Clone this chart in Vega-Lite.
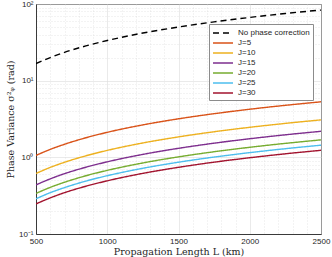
{
  "$schema": "https://vega.github.io/schema/vega-lite/v6.json",
  "width": 285,
  "height": 230,
  "autosize": {"type": "none"},
  "padding": {"left": 36, "top": 4, "right": 11, "bottom": 23},
  "background": "white",
  "config": {
    "view": {"stroke": "#3a3a3a", "strokeWidth": 1},
    "axis": {
      "domainColor": "#3a3a3a",
      "labelColor": "#262626",
      "labelFont": "Liberation Sans",
      "labelFontSize": 8,
      "titleFont": "DejaVu Serif",
      "titleFontWeight": "normal",
      "titleFontSize": 9.5,
      "titleColor": "#262626",
      "ticks": false,
      "labelOverlap": false,
      "labelFlush": false
    },
    "legend": {
      "title": null,
      "orient": "none",
      "legendX": 173,
      "legendY": 20,
      "fillColor": "white",
      "strokeColor": "#8c8c8c",
      "padding": 3,
      "symbolType": "M-2,0H2",
      "symbolSize": 100,
      "symbolStrokeWidth": 1.5,
      "symbolOffset": 5,
      "labelOffset": 9,
      "labelFont": "Liberation Sans",
      "labelFontSize": 8,
      "labelColor": "#262626",
      "rowPadding": 0
    }
  },
  "data": {
    "values": [
      {"L": 500, "s": "No phase correction", "v": 16.7},
      {"L": 600, "s": "No phase correction", "v": 20.0},
      {"L": 700, "s": "No phase correction", "v": 23.4},
      {"L": 850, "s": "No phase correction", "v": 28.4},
      {"L": 1000, "s": "No phase correction", "v": 33.4},
      {"L": 1250, "s": "No phase correction", "v": 41.8},
      {"L": 1500, "s": "No phase correction", "v": 50.1},
      {"L": 1750, "s": "No phase correction", "v": 58.5},
      {"L": 2000, "s": "No phase correction", "v": 66.8},
      {"L": 2250, "s": "No phase correction", "v": 75.2},
      {"L": 2500, "s": "No phase correction", "v": 83.5},
      {"L": 500, "s": "J=5", "v": 1.06},
      {"L": 600, "s": "J=5", "v": 1.27},
      {"L": 700, "s": "J=5", "v": 1.48},
      {"L": 850, "s": "J=5", "v": 1.80},
      {"L": 1000, "s": "J=5", "v": 2.12},
      {"L": 1250, "s": "J=5", "v": 2.65},
      {"L": 1500, "s": "J=5", "v": 3.18},
      {"L": 1750, "s": "J=5", "v": 3.71},
      {"L": 2000, "s": "J=5", "v": 4.24},
      {"L": 2250, "s": "J=5", "v": 4.77},
      {"L": 2500, "s": "J=5", "v": 5.30},
      {"L": 500, "s": "J=10", "v": 0.616},
      {"L": 600, "s": "J=10", "v": 0.739},
      {"L": 700, "s": "J=10", "v": 0.862},
      {"L": 850, "s": "J=10", "v": 1.047},
      {"L": 1000, "s": "J=10", "v": 1.232},
      {"L": 1250, "s": "J=10", "v": 1.54},
      {"L": 1500, "s": "J=10", "v": 1.848},
      {"L": 1750, "s": "J=10", "v": 2.156},
      {"L": 2000, "s": "J=10", "v": 2.464},
      {"L": 2250, "s": "J=10", "v": 2.772},
      {"L": 2500, "s": "J=10", "v": 3.08},
      {"L": 500, "s": "J=15", "v": 0.437},
      {"L": 600, "s": "J=15", "v": 0.524},
      {"L": 700, "s": "J=15", "v": 0.612},
      {"L": 850, "s": "J=15", "v": 0.743},
      {"L": 1000, "s": "J=15", "v": 0.874},
      {"L": 1250, "s": "J=15", "v": 1.093},
      {"L": 1500, "s": "J=15", "v": 1.311},
      {"L": 1750, "s": "J=15", "v": 1.530},
      {"L": 2000, "s": "J=15", "v": 1.748},
      {"L": 2250, "s": "J=15", "v": 1.967},
      {"L": 2500, "s": "J=15", "v": 2.185},
      {"L": 500, "s": "J=20", "v": 0.338},
      {"L": 600, "s": "J=20", "v": 0.406},
      {"L": 700, "s": "J=20", "v": 0.473},
      {"L": 850, "s": "J=20", "v": 0.575},
      {"L": 1000, "s": "J=20", "v": 0.676},
      {"L": 1250, "s": "J=20", "v": 0.845},
      {"L": 1500, "s": "J=20", "v": 1.014},
      {"L": 1750, "s": "J=20", "v": 1.183},
      {"L": 2000, "s": "J=20", "v": 1.352},
      {"L": 2250, "s": "J=20", "v": 1.521},
      {"L": 2500, "s": "J=20", "v": 1.69},
      {"L": 500, "s": "J=25", "v": 0.288},
      {"L": 600, "s": "J=25", "v": 0.346},
      {"L": 700, "s": "J=25", "v": 0.403},
      {"L": 850, "s": "J=25", "v": 0.490},
      {"L": 1000, "s": "J=25", "v": 0.576},
      {"L": 1250, "s": "J=25", "v": 0.72},
      {"L": 1500, "s": "J=25", "v": 0.864},
      {"L": 1750, "s": "J=25", "v": 1.008},
      {"L": 2000, "s": "J=25", "v": 1.152},
      {"L": 2250, "s": "J=25", "v": 1.296},
      {"L": 2500, "s": "J=25", "v": 1.44},
      {"L": 500, "s": "J=30", "v": 0.247},
      {"L": 600, "s": "J=30", "v": 0.296},
      {"L": 700, "s": "J=30", "v": 0.346},
      {"L": 850, "s": "J=30", "v": 0.420},
      {"L": 1000, "s": "J=30", "v": 0.494},
      {"L": 1250, "s": "J=30", "v": 0.618},
      {"L": 1500, "s": "J=30", "v": 0.741},
      {"L": 1750, "s": "J=30", "v": 0.865},
      {"L": 2000, "s": "J=30", "v": 0.988},
      {"L": 2250, "s": "J=30", "v": 1.112},
      {"L": 2500, "s": "J=30", "v": 1.235}
    ]
  },
  "mark": {"type": "line", "strokeWidth": 1.4, "interpolate": "monotone", "clip": true},
  "encoding": {
    "x": {
      "field": "L",
      "type": "quantitative",
      "scale": {"domain": [500, 2500], "nice": false, "zero": false},
      "axis": {
        "title": "Propagation Length L (km)",
        "titlePadding": 1,
        "labelPadding": 3,
        "values": [500, 600, 700, 800, 900, 1000, 1100, 1200, 1300, 1400, 1500, 1600, 1700, 1800, 1900, 2000, 2100, 2200, 2300, 2400, 2500],
        "labelExpr": "datum.value % 500 == 0 ? format(datum.value, 'd') : ''",
        "grid": true,
        "gridColor": {"condition": {"test": "datum.value % 500 == 0", "value": "#dcdcdc"}, "value": "#d8d8d8"},
        "gridDash": {"condition": {"test": "datum.value % 500 == 0", "value": []}, "value": [1, 2]},
        "gridWidth": 0.6
      }
    },
    "y": {
      "field": "v",
      "type": "quantitative",
      "scale": {"type": "log", "domain": [0.1, 100], "nice": false},
      "axis": {
        "title": "Phase Variance σ²ᵩ (rad)",
        "titlePadding": 3,
        "labelPadding": 3,
        "values": [0.1, 0.2, 0.3, 0.4, 0.5, 0.6, 0.7, 0.8, 0.9, 1, 2, 3, 4, 5, 6, 7, 8, 9, 10, 20, 30, 40, 50, 60, 70, 80, 90, 100],
        "labelExpr": "datum.value == 0.1 ? '10⁻¹' : datum.value == 1 ? '10⁰' : datum.value == 10 ? '10¹' : datum.value == 100 ? '10²' : ''",
        "grid": true,
        "gridColor": {"condition": {"test": "datum.value == 1 || datum.value == 10 || datum.value == 0.1 || datum.value == 100", "value": "#dcdcdc"}, "value": "#d8d8d8"},
        "gridDash": {"condition": {"test": "datum.value == 1 || datum.value == 10 || datum.value == 0.1 || datum.value == 100", "value": []}, "value": [1, 2]},
        "gridWidth": 0.6
      }
    },
    "color": {
      "field": "s",
      "type": "nominal",
      "sort": ["No phase correction", "J=5", "J=10", "J=15", "J=20", "J=25", "J=30"],
      "scale": {
        "domain": ["No phase correction", "J=5", "J=10", "J=15", "J=20", "J=25", "J=30"],
        "range": ["#000000", "#D95319", "#EDB120", "#7E2F8E", "#77AC30", "#4DBEEE", "#A2142F"]
      },
      "legend": {"title": null}
    },
    "strokeDash": {
      "field": "s",
      "type": "nominal",
      "sort": ["No phase correction", "J=5", "J=10", "J=15", "J=20", "J=25", "J=30"],
      "scale": {
        "domain": ["No phase correction", "J=5", "J=10", "J=15", "J=20", "J=25", "J=30"],
        "range": [[6, 4], [1, 0], [1, 0], [1, 0], [1, 0], [1, 0], [1, 0]]
      },
      "legend": {"title": null}
    },
    "strokeWidth": {
      "condition": {"test": "datum.s == 'No phase correction'", "value": 1.8},
      "value": 1.4
    }
  }
}
